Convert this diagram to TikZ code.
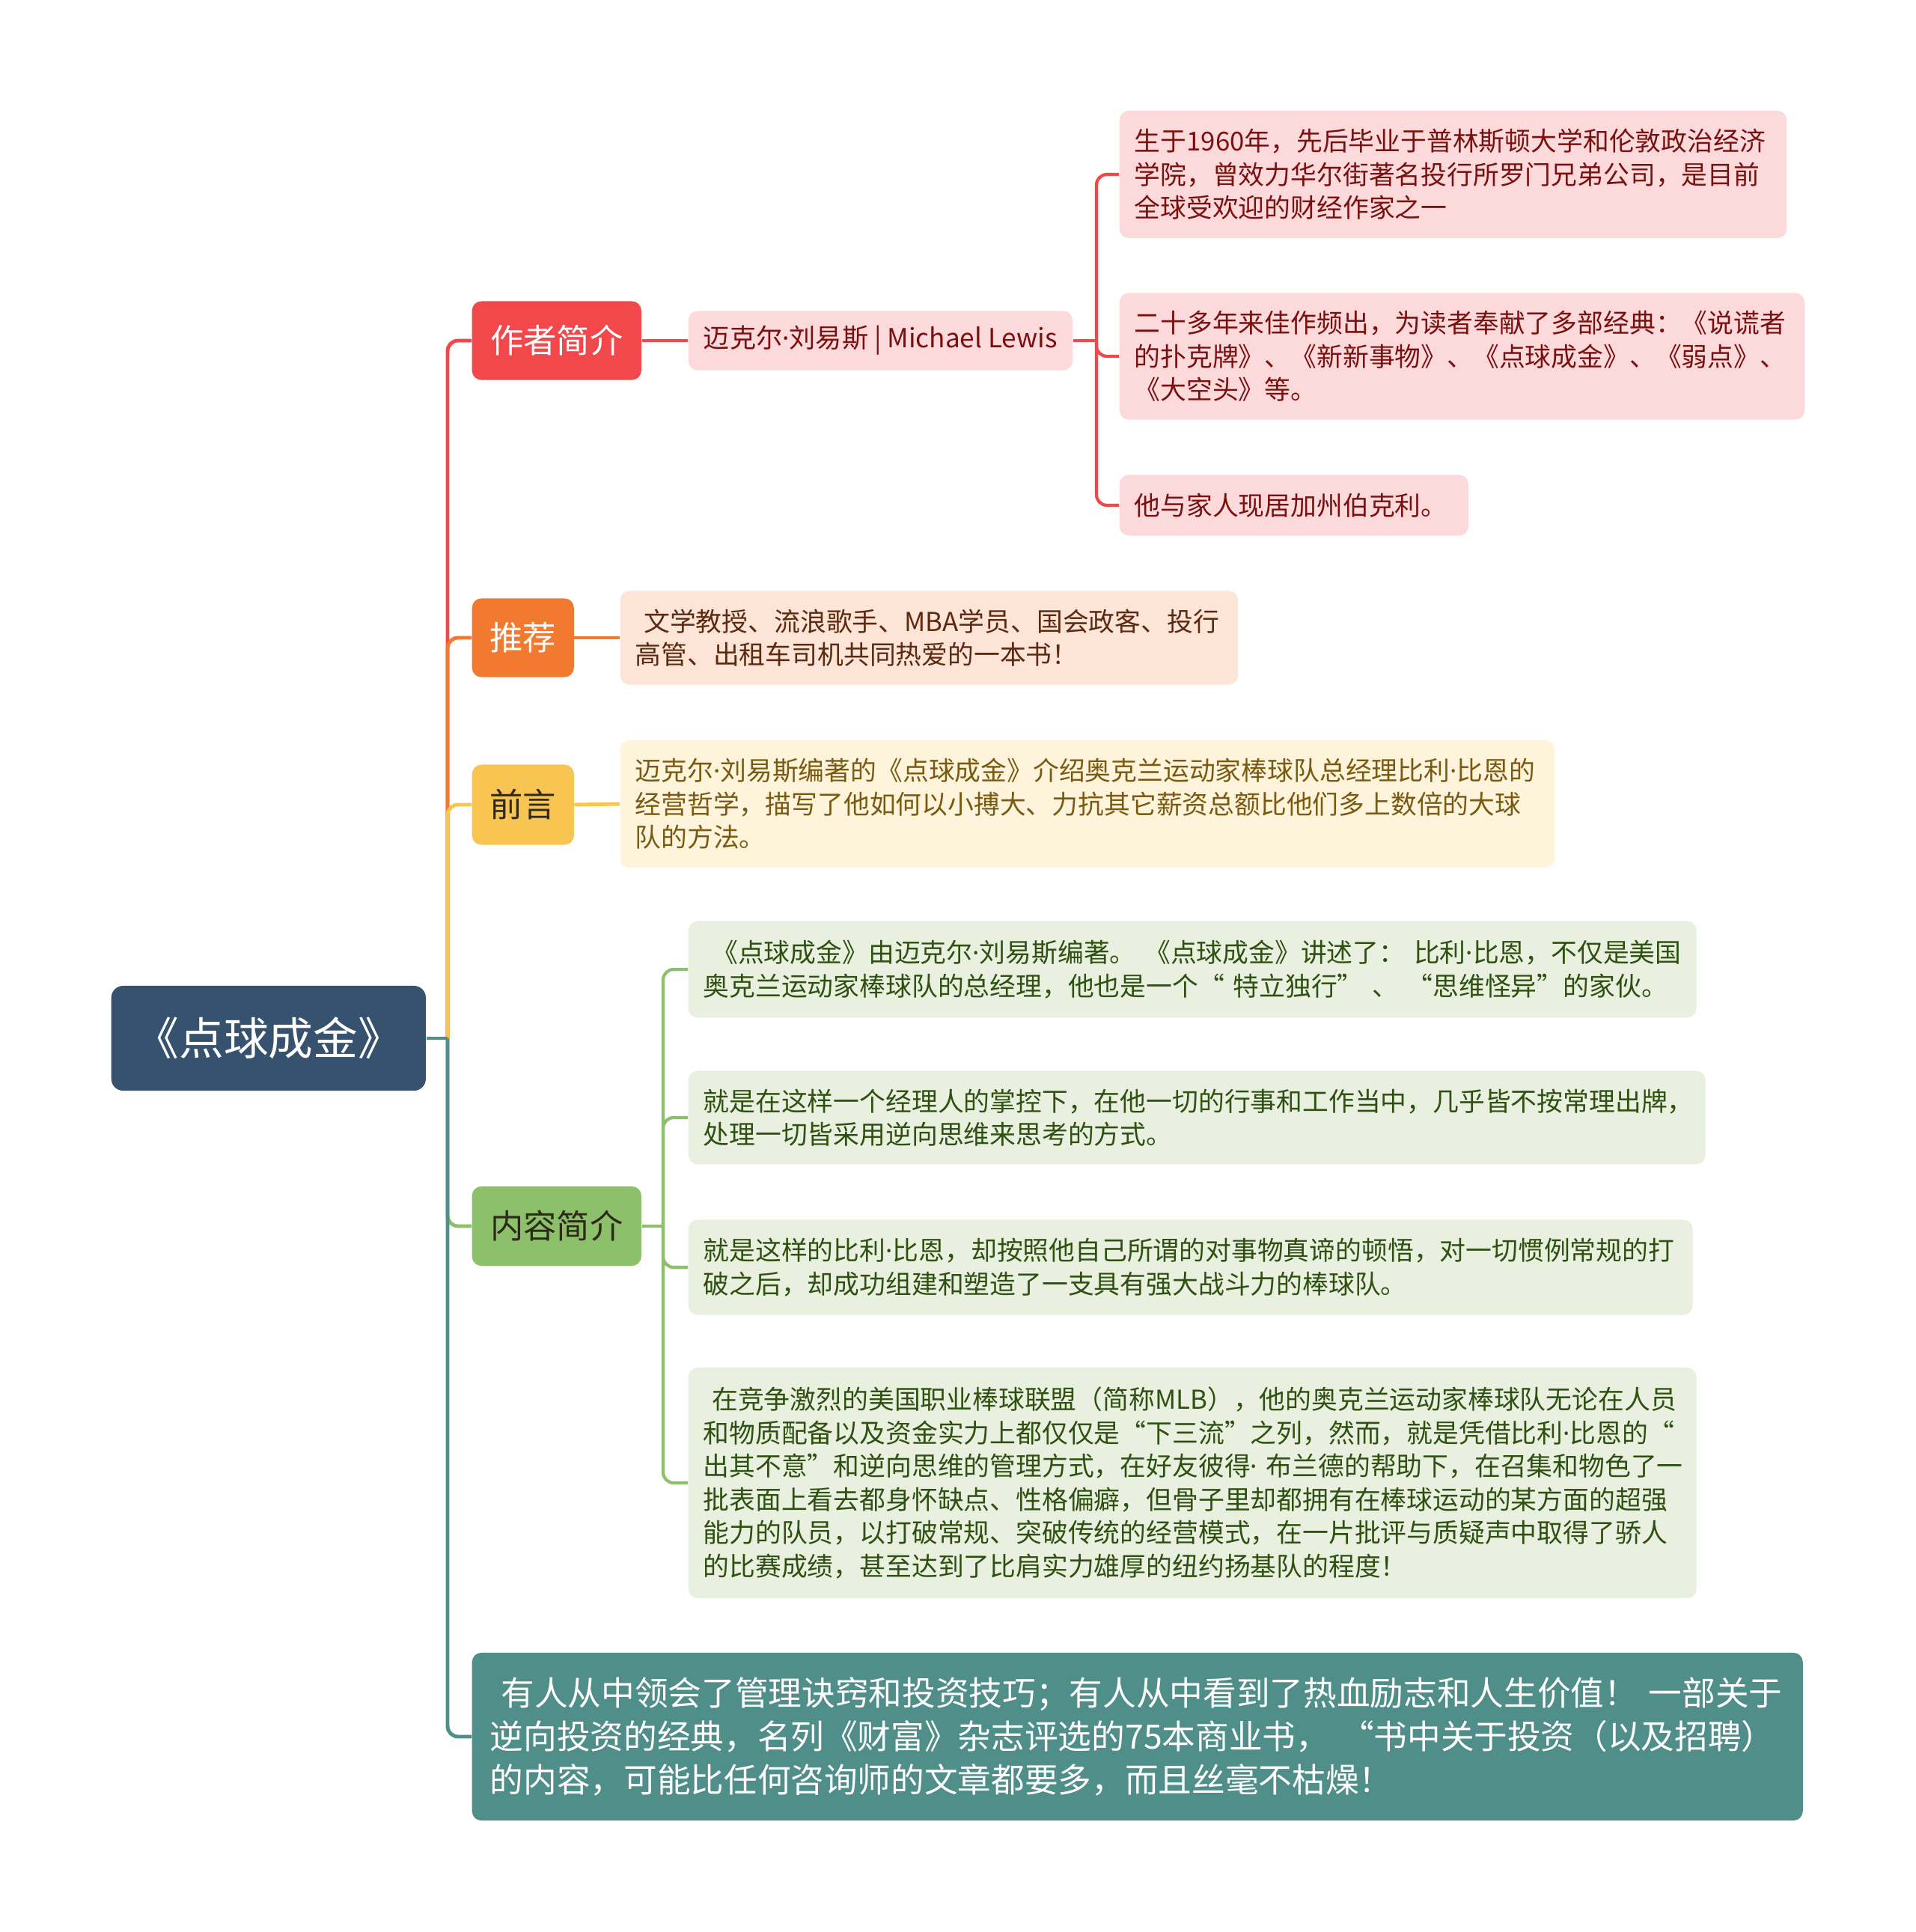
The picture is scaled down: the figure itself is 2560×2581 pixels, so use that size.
\documentclass[tikz,border=0pt]{standalone}
\usepackage{fontspec}
\setmainfont{Noto Sans CJK SC}
\newfontfamily\latinfont{Noto Sans}
\newcommand\mdot{{\latinfont ·}}
\usepackage{tikz}

\definecolor{rootblue}{HTML}{37526E}
\definecolor{redcat}{HTML}{F2474B}
\definecolor{redleaf}{HTML}{FCDADB}
\definecolor{redtext}{HTML}{7A1010}
\definecolor{orangecat}{HTML}{F17A30}
\definecolor{orangeleaf}{HTML}{FCE4D7}
\definecolor{orangetext}{HTML}{5C2A10}
\definecolor{yellowcat}{HTML}{F8C553}
\definecolor{yellowleaf}{HTML}{FEF4DC}
\definecolor{yellowtext}{HTML}{7A5A10}
\definecolor{greencat}{HTML}{8DC06B}
\definecolor{greenleaf}{HTML}{E9F0E0}
\definecolor{greentext}{HTML}{2E5010}
\definecolor{darktext}{HTML}{2E2A1A}
\definecolor{tealbox}{HTML}{4F8E89}

\begin{document}
\begin{tikzpicture}[x=0.01cm, y=-0.01cm,
    box/.style={anchor=west, rounded corners=3.5pt, inner ysep=0pt, inner xsep=0.2cm},
    rootbox/.style={box, fill=rootblue, text=white, rounded corners=4.5pt,
      font=\fontsize{17}{20}\selectfont},
    catbox/.style={box, font=\fontsize{12.6}{15}\selectfont},
    leafbox/.style={box, align=left, font=\fontsize{9.9}{12.66}\selectfont},
    conn/.style={line width=1.4pt, rounded corners=4pt},
    twig/.style={line width=1.2pt, rounded corners=4pt},
  ]
  \useasboundingbox (0,0) rectangle (2560,2581);

  % central topic
  \node[rootbox, minimum width=4.2cm, minimum height=1.4cm] (root) at (148,1387) {《点球成金》};

  % author branch (red)
  \node[catbox, fill=redcat, text=white, minimum width=2.26cm, minimum height=1.05cm] (author) at (630,455) {作者简介};
  \node[leafbox, fill=redleaf, text=redtext, align=center, minimum width=5.13cm, minimum height=0.79cm,
    inner xsep=0.15cm, font=\fontsize{10}{12.66}\selectfont] (mike) at (919,455) {迈克尔\mdot 刘易斯 | Michael Lewis};
  \node[leafbox, fill=redleaf, text=redtext, text width=8.51cm, minimum height=1.70cm] (bio) at (1495,233)
    {生于1960年，先后毕业于普林斯顿大学和伦敦政治经济\\学院，曾效力华尔街著名投行所罗门兄弟公司，是目前\\全球受欢迎的财经作家之一};
  \node[leafbox, fill=redleaf, text=redtext, text width=8.75cm, minimum height=1.69cm] (works) at (1495,476)
    {二十多年来佳作频出，为读者奉献了多部经典：《说谎者\\的扑克牌》、《新新事物》、《点球成金》、《弱点》、\\《大空头》等。};
  \node[leafbox, fill=redleaf, text=redtext, text width=4.26cm, minimum height=0.81cm] (home) at (1495,675)
    {他与家人现居加州伯克利。};

  % recommendation branch (orange)
  \node[catbox, fill=orangecat, text=white, minimum width=1.36cm, minimum height=1.05cm] (recom) at (630,852) {推荐};
  \node[leafbox, fill=orangeleaf, text=orangetext, text width=7.85cm, minimum height=1.25cm] (readers) at (828,852)
    {~文学教授、流浪歌手、MBA学员、国会政客、投行\\高管、出租车司机共同热爱的一本书！};

  % preface branch (yellow)
  \node[catbox, fill=yellowcat, text=darktext, minimum width=1.36cm, minimum height=1.07cm] (preface) at (630,1075) {前言};
  \node[leafbox, fill=yellowleaf, text=yellowtext, text width=12.08cm, minimum height=1.70cm] (intro) at (828,1074)
    {迈克尔\mdot 刘易斯编著的《点球成金》介绍奥克兰运动家棒球队总经理比利\mdot 比恩的\\经营哲学，描写了他如何以小搏大、力抗其它薪资总额比他们多上数倍的大球\\队的方法。};

  % content branch (green)
  \node[catbox, fill=greencat, text=darktext, minimum width=2.26cm, minimum height=1.06cm] (content) at (630,1638) {内容简介};
  \node[leafbox, fill=greenleaf, text=greentext, text width=13.06cm, minimum height=1.29cm] (gone) at (919,1295)
    {~《点球成金》由迈克尔\mdot 刘易斯编著。~《点球成金》讲述了：~比利\mdot 比恩，不仅是美国\\奥克兰运动家棒球队的总经理，他也是一个“~特立独行”~、~“思维怪异”的家伙。};
  \node[leafbox, fill=greenleaf, text=greentext, text width=13.18cm, minimum height=1.25cm] (gtwo) at (919,1493)
    {就是在这样一个经理人的掌控下，在他一切的行事和工作当中，几乎皆不按常理出牌，\\处理一切皆采用逆向思维来思考的方式。};
  \node[leafbox, fill=greenleaf, text=greentext, text width=13.01cm, minimum height=1.27cm] (gthree) at (919,1693)
    {就是这样的比利\mdot 比恩，却按照他自己所谓的对事物真谛的顿悟，对一切惯例常规的打\\破之后，却成功组建和塑造了一支具有强大战斗力的棒球队。};
  \node[leafbox, fill=greenleaf, text=greentext, text width=13.06cm, minimum height=3.08cm] (gfour) at (919,1981)
    {~在竞争激烈的美国职业棒球联盟（简称MLB），他的奥克兰运动家棒球队无论在人员\\和物质配备以及资金实力上都仅仅是“下三流”之列，然而，就是凭借比利\mdot 比恩的“\\出其不意”和逆向思维的管理方式，在好友彼得\mdot~布兰德的帮助下，在召集和物色了一\\批表面上看去都身怀缺点、性格偏癖，但骨子里却都拥有在棒球运动的某方面的超强\\能力的队员，以打破常规、突破传统的经营模式，在一片批评与质疑声中取得了骄人\\的比赛成绩，甚至达到了比肩实力雄厚的纽约扬基队的程度！};

  % closing note (teal)
  \node[box, fill=tealbox, text=white, align=left, inner xsep=0.24cm, text width=17.29cm, minimum height=2.24cm,
    font=\fontsize{12.7}{16.5}\selectfont] (note) at (630,2320)
    {~有人从中领会了管理诀窍和投资技巧；有人从中看到了热血励志和人生价值！~一部关于\\逆向投资的经典，名列《财富》杂志评选的75本商业书，~“书中关于投资（以及招聘）\\的内容，可能比任何咨询师的文章都要多，而且丝毫不枯燥！};

  % trunk: later branches are drawn over earlier ones
  \coordinate (hub) at (598,1387);
  \draw[conn, redcat] (hub) |- (author.west);
  \draw[conn, orangecat] (hub) |- (recom.west);
  \draw[conn, yellowcat] (hub) |- (preface.west);
  \draw[conn, greencat] (hub) |- (content.west);
  \draw[conn, tealbox] (hub) |- (note.west);
  \draw[conn, tealbox] (root.east) -- (hub);

  % sub branches
  \draw[conn, redcat] (author.east) -- (mike.west);
  \draw[conn, orangecat] (recom.east) -- (readers.west);
  \draw[conn, yellowcat] (preface.east) -- (intro.west);

  \coordinate (mhub) at (1465,455);
  \draw[twig, redcat] (mike.east) -- (mhub);
  \foreach \leaf in {bio, works, home}
    \draw[twig, redcat] (mhub) |- (\leaf.west);

  \coordinate (chub) at (886,1638);
  \draw[twig, greencat] (content.east) -- (chub);
  \foreach \leaf in {gone, gtwo, gthree, gfour}
    \draw[twig, greencat] (chub) |- (\leaf.west);
\end{tikzpicture}
\end{document}
